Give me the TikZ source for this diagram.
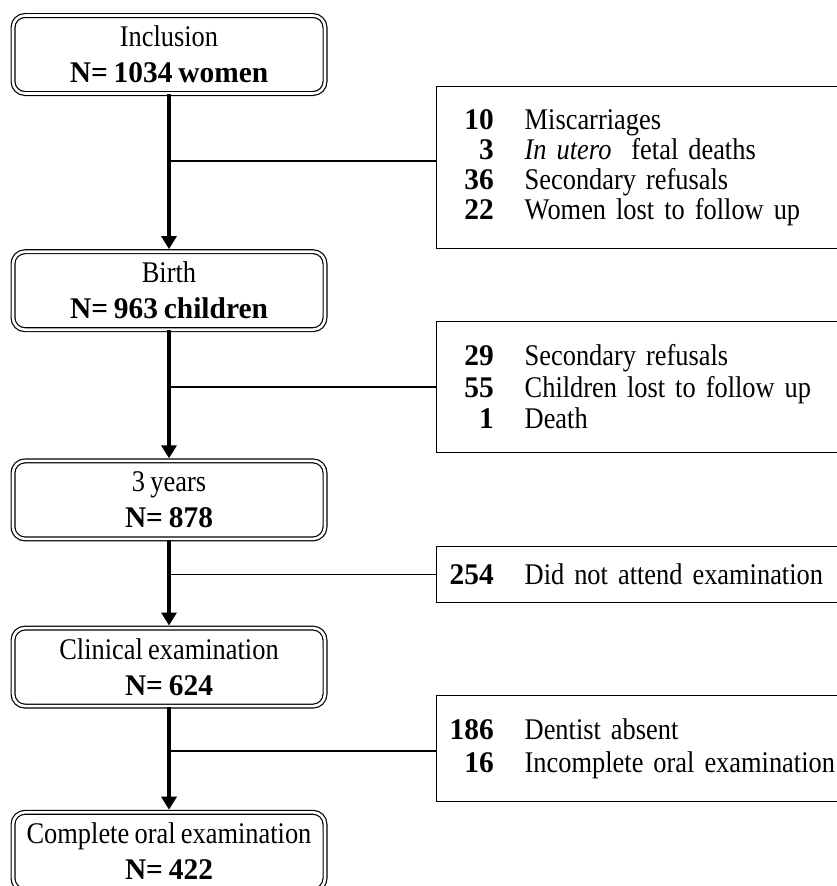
\documentclass[tikz,border=0pt]{standalone}
\usepackage{fontspec}
\setmainfont{Liberation Serif}[FakeStretch=0.88,WordSpace=0.8,BoldFeatures={FakeStretch=0.98}]
\usetikzlibrary{positioning,arrows.meta}
\newcommand{\lost}[2]{\makebox[57pt][r]{\bfseries #1}\hspace{31pt}\mbox{#2}}

\begin{document}
\begin{tikzpicture}[% coordinates in pixels of the page, y going down
		x=1pt,y=-1pt,
		every node/.style={
			font=\fontsize{30}{30}\selectfont	% Times-like text everywhere
		},
		stage/.style={rectangle,rounded corners=12pt,draw=black,double,double distance=2.6pt,line width=1.2pt,
			minimum width=312pt,minimum height=78pt,align=center,inner sep=0pt},
		lostbox/.style={rectangle,draw=black,line width=1.4pt,anchor=west,
			text width=404pt,inner xsep=0pt,align=left},
		flow/.style={draw,line width=3.5pt,-{Triangle[length=13pt,width=15pt]},shorten >=2pt},
		branch/.style={draw,line width=1.4pt}
	]
	\useasboundingbox (0,0) rectangle (836,886);
	% main column
	\node[stage](I) at (169,54.5){Inclusion\\[6pt]\textbf{N= 1034 women}};
	\node[stage](B)[below=157pt of I]{Birth\\[6pt]\textbf{N= 963 children}};
	\node[stage](Y)[below=130pt of B]{3 years\\[6pt]\textbf{N= 878}};
	\node[stage](C)[below=88pt of Y]{Clinical examination\\[6pt]\textbf{N= 624}};
	\node[stage](O)[below=105pt of C]{Complete oral examination\\[6pt]\textbf{N= 422}};
	% drop-outs
	\node[lostbox,minimum height=161.5pt](L1) at (436,167.5){\lost{10}{Miscarriages}\\
		\lost{3}{\textit{In utero} \ fetal deaths}\\
		\lost{36}{Secondary refusals}\\
		\lost{22}{Women lost to follow up}};
	\node[lostbox,minimum height=130.5pt](L2) at (436,387){\lost{29}{Secondary refusals}\\[1.5pt]
		\lost{55}{Children lost to follow up}\\[1.5pt]
		\lost{1}{Death}};
	\node[lostbox,minimum height=55.5pt](L3) at (436,574.5){\lost{254}{Did not attend examination}};
	\node[lostbox,minimum height=105.5pt](L4) at (436,748.5){\lost{186}{Dentist absent}\\[3pt]
		\lost{16}{Incomplete oral examination}};
	\path[flow]
		(I) edge (B)
		(B) edge (Y)
		(Y) edge (C)
		(C) edge (O)
	;
	\draw[branch] ([yshift=6.5pt]L1.west) -- ([yshift=6.5pt]L1.west -| I.south);
	\draw[branch] (L2.west) -- (L2.west -| B.south);
	\draw[branch] (L3.west) -- (L3.west -| Y.south);
	\draw[branch] ([yshift=-2.5pt]L4.west) -- ([yshift=-2.5pt]L4.west -| C.south);
\end{tikzpicture}
\end{document}
